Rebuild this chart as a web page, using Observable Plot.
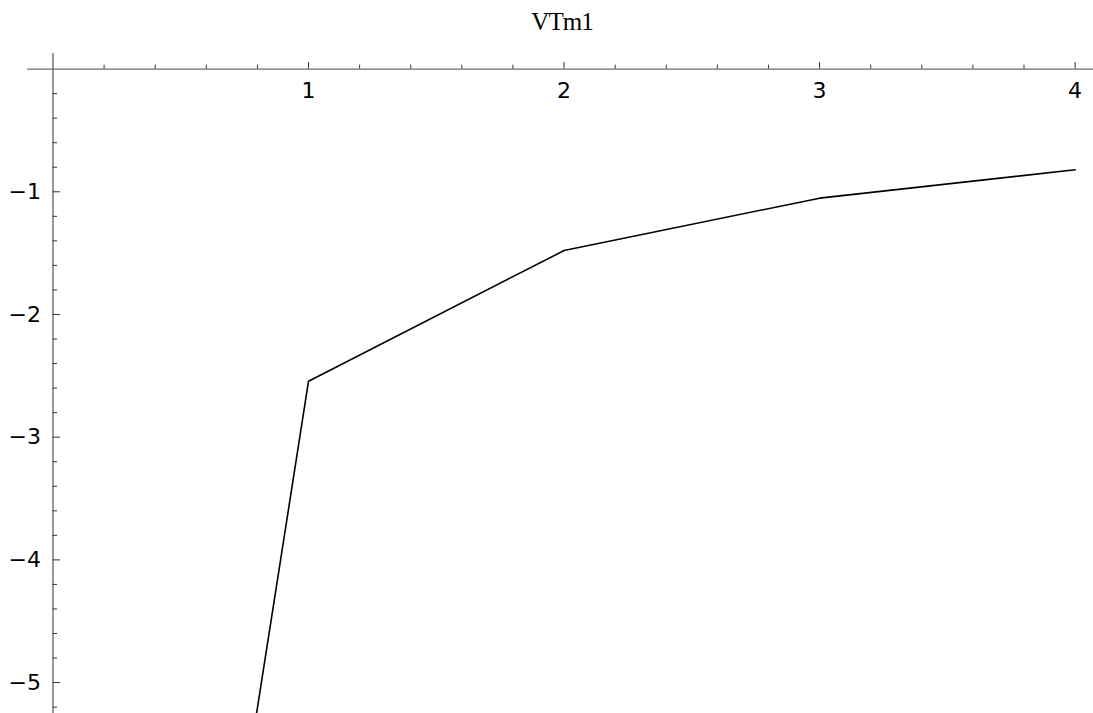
<!DOCTYPE html>
<html>
<head>
<meta charset="utf-8">
<script src="https://cdn.jsdelivr.net/npm/d3@7"></script>
<script src="https://cdn.jsdelivr.net/npm/@observablehq/plot@0.6"></script>
<style>
  html, body { margin: 0; padding: 0; background: #fff; overflow: hidden; }
  #title { height: 40px; position: relative; }
  #title span { position: absolute; left: 31px; right: 0; top: 8.5px; text-align: center;
    font-family: "Liberation Serif", serif; font-size: 25px; line-height: 26px; letter-spacing: -1px; color: #000; }
  #chart svg { display: block; }
</style>
</head>
<body>
<div id="title"><span>VTm1</span></div>
<div id="chart"></div>
<script>
// Data
const xValues = [0.5, 1, 2, 3, 4];
const vtm1 = [-9.2, -2.544, -1.479, -1.052, -0.821];

// Axis tick values
const xMajorTicks = [1, 2, 3, 4];
const xMinorTicks = d3.range(1, 20).map(i => i / 5).filter(v => !Number.isInteger(v));
const yMajorTicks = [-1, -2, -3, -4, -5];
const yMinorTicks = d3.range(1, 27).map(i => -i / 5).filter(v => !Number.isInteger(Math.round(v * 1e6) / 1e6));

const series = xValues.map((x, i) => ({x, y: vtm1[i]}));

const W = 1093, H = 673;
const mL = 27, mR = 0, mT = 13, mB = 0;
const xDom = [-0.0998, 4.072];
const yDom = [-5.252, 0.127];
const pxPerX = (W - mL - mR) / (xDom[1] - xDom[0]);
const pxPerY = (H - mT - mB) / (yDom[1] - yDom[0]);
const xTick = (px) => px / pxPerY;  // vertical length (in y units) for ticks on x axis
const yTick = (px) => px / pxPerX;  // horizontal length (in x units) for ticks on y axis

const font = "DejaVu Sans, sans-serif";

const chart = Plot.plot({
  width: W, height: H,
  marginLeft: mL, marginRight: mR, marginTop: mT, marginBottom: mB,
  x: {domain: xDom, axis: null},
  y: {domain: yDom, axis: null},
  style: {background: "#fff"},
  marks: [
    // axis lines
    Plot.ruleY([0], {stroke: "#6b6b6b", strokeWidth: 1.4}),
    Plot.ruleX([0], {stroke: "#6b6b6b", strokeWidth: 1.4}),
    // x ticks (pointing up)
    Plot.ruleX(xMajorTicks, {x: d => d, y1: 0, y2: xTick(6.5), stroke: "#333", strokeWidth: 1}),
    Plot.ruleX(xMinorTicks, {x: d => d, y1: 0, y2: xTick(4), stroke: "#333", strokeWidth: 1}),
    // y ticks (pointing right)
    Plot.ruleY(yMajorTicks, {y: d => d, x1: 0, x2: yTick(7.5), stroke: "#333", strokeWidth: 1}),
    Plot.ruleY(yMinorTicks, {y: d => d, x1: 0, x2: yTick(4.5), stroke: "#333", strokeWidth: 1}),
    // tick labels
    Plot.text(xMajorTicks, {x: d => d, y: 0, text: d => String(d), dy: 22, fontSize: 22, fontFamily: font, fill: "#000"}),
    Plot.text(yMajorTicks, {x: 0, y: d => d, text: d => "\u2212" + Math.abs(d), dx: -12, textAnchor: "end", fontSize: 22, fontFamily: font, fill: "#000"}),
    // the series
    Plot.line(series, {x: "x", y: "y", stroke: "#000", strokeWidth: 1.6, clip: true})
  ]
});
document.getElementById("chart").appendChild(chart);
</script>
</body>
</html>
